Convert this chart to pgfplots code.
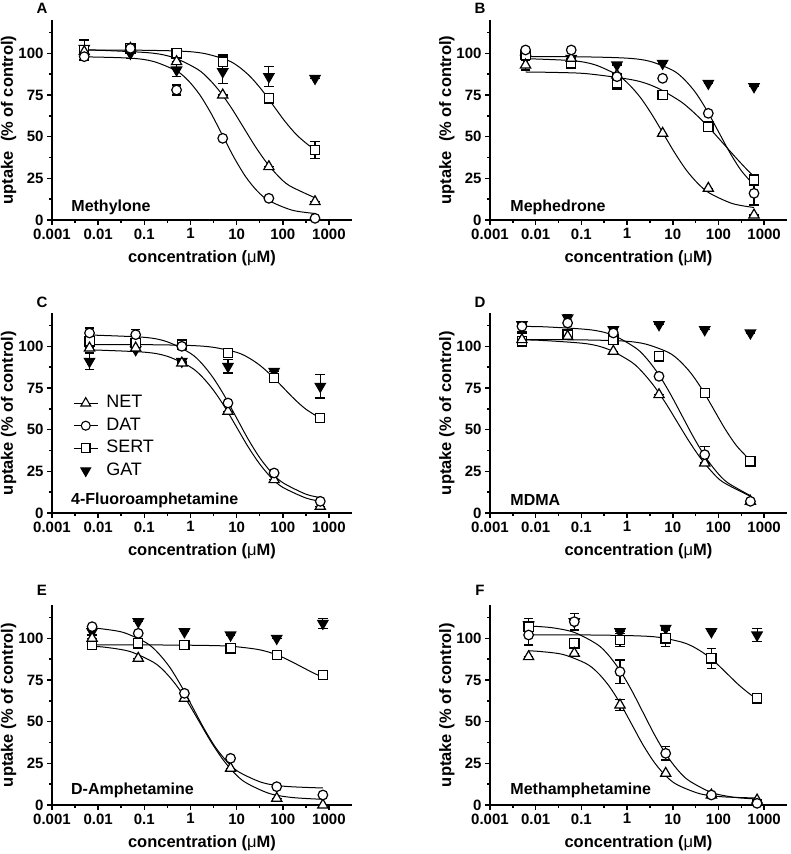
\documentclass[border=0pt]{standalone}
\usepackage{pgfplots}
\pgfplotsset{compat=1.18}
\usepackage{pgfplotstable}
\usepackage{fontspec}
\setmainfont{Liberation Sans}
\newcommand{\legf}{\fontsize{18}{19}\selectfont}

% columns: x, NET, err, DAT, err, SERT, err, GAT, err
\pgfplotstableread{
x N Ne D De S Se G Ge
0.005 101 0 98 2 102 6 103 5
0.05 103 0 103 0 103 0 100 3
0.5 95 0 78 3 100 0 90 4
5 75 0 49 0 95 4 89 7
50 32 0 13 0 73 3 86 6
500 11 0 1 0 42 5 85 0
}\tA
\pgfplotstableread{
x N Ne D De S Se G Ge
0.006 93 3 102 0 99 0 97 0
0.06 97 0 102 0 94 0 97 0
0.6 87 0 86 2 82 3.5 93 0
6 52 0 85 0 75 0 94 0
60 19 0 64 0 56 0 82 0
600 3 0 16 7 24 3 80 0
}\tB
\pgfplotstableread{
x N Ne D De S Se G Ge
0.0065 99 0 108 3 103 0 91 5
0.065 99 0 107 3 102 0 98 0
0.65 90 0 100 0 101 3 91 0
6.5 61 0 66 0 96 0 88 4
65 20 0 24 0 81 0 85 0
650 4 0 7 0 57 0 76 7
}\tC
\pgfplotstableread{
x N Ne D De S Se G Ge
0.005 104 4 112 3 103 0 113 0
0.05 106 0 114 0 107 0 117 2
0.5 97 0 108 0 104 0 110 0
5 71 0 82 0 94 0 113 0
50 30 0 35 5 72 0 110 0
500 7 0 7 0 31 0 108 0
}\tD
\pgfplotstableread{
x N Ne D De S Se G Ge
0.0074 100 0 107 0 96 0 104 2
0.074 88 0 103 0 97 0 110 0
0.74 64 0 67 0 96 0 104 0
7.4 22 0 28 0 94 0 102 0
74 4 0 11 0 90 0 100 0
740 0 0 6 0 78 0 109 3
}\tE
\pgfplotstableread{
x N Ne D De S Se G Ge
0.007 89 0 102 6 107 0 108 4
0.07 91 0 110 5 97 0 110 0
0.7 60 3.5 80 7 99 4 104 0
7 19 0 31 4 100 5 106 0
70 6 0 6 0 88 6 104 0
700 3 0 1 0 64 2 102 4
}\tF

\pgfplotsset{
  every axis/.append style={
    scale only axis, height=200pt,
    xmode=log,
    xmin=0.001, xmax=3162.28, ymin=0, ymax=120,
    clip=false,
    axis x line*=bottom, axis y line*=left,
    axis line style={line width=1.5pt},
    tick align=outside,
    major tick length=5pt, minor tick length=3pt,
    tick style={line width=1.5pt, black},
    xtick={0.001,0.01,0.1,1,10,100,1000},
    xticklabels={0.001,0.01,0.1,1,10,100,1000},
    minor xtick={0.003162,0.03162,0.3162,3.162,31.62,316.2},
    ytick={0,25,50,75,100},
    minor ytick={12.5,37.5,62.5,87.5,112.5},
    tick label style={font=\fontsize{15}{17}\selectfont\bfseries},
    label style={font=\fontsize{16.5}{19}\selectfont\bfseries},
    xlabel={concentration ({\mdseries μ}M)},
    xlabel style={at={(axis description cs:0.5,-0.19)}, anchor=center},
    ylabel style={at={(axis description cs:-0.145,0.5)}, anchor=center},
  },
  mycurve/.style={black, line width=1pt, smooth, no markers},
  myerrs/.style={error bars/.cd, y dir=both, y explicit,
    error bar style={line width=1.1pt, black},
    error mark options={rotate=90, mark size=4.8pt, line width=1.1pt, black}},
  mynet/.style={black, line width=1.2pt, only marks, mark=triangle*, mark size=5.9pt, mark options={fill=white, solid}},
  mydat/.style={black, line width=1.2pt, only marks, mark=*, mark size=4.8pt, mark options={fill=white, solid}},
  mysert/.style={black, line width=1.2pt, only marks, mark=square*, mark size=4.6pt, mark options={fill=white, solid}},
  mygat/.style={black, line width=1.2pt, only marks, mark=triangle*, mark size=5.9pt, mark options={fill=black, rotate=180, solid}},
}
\tikzset{mypname/.style={anchor=west, font=\fontsize{16}{18}\selectfont\bfseries},
  myletter/.style={font=\fontsize{15}{17}\selectfont\bfseries}}

\begin{document}
\begin{tikzpicture}
\useasboundingbox (0pt,0pt) rectangle (790pt,854pt);

% ---------------- A: Methylone
\begin{axis}[width=300pt, at={(52pt,634pt)}, anchor=south west,
  /pgf/number format/assume math mode=true,
  ylabel={uptake\ \ (\% of control)}]
\addplot[mycurve] coordinates {(0.005,101.9) (0.01413,101.7) (0.1413,100.2) (0.4467,97.3) (1.413,90.5) (2.512,84.6) (4.467,76.6) (7.943,66.7) (14.13,55.5) (25.12,44.3) (44.67,34.4) (79.43,26.4) (141.3,20.5) (500,13.3)};
\addplot[mycurve] coordinates {(0.005,97.9) (0.05012,97.1) (0.1585,95.1) (0.5012,89.4) (0.8913,83.7) (1.585,75.2) (2.818,63.8) (5.012,50.5) (8.913,37.2) (15.85,25.8) (28.18,17.3) (50.12,11.6) (158.5,5.9) (500,3.9)};
\addplot[mycurve] coordinates {(0.005,102.0) (0.0631,101.9) (0.631,101.3) (1.995,99.9) (6.31,95.9) (11.22,91.9) (19.95,85.9) (35.48,77.9) (63.1,68.5) (112.2,59.1) (199.5,51.1) (354.8,45.1) (500,42.5)};
\addplot[mygat, myerrs] table[x=x, y=G, y error=Ge] {\tA};
\addplot[mysert, myerrs] table[x=x, y=S, y error=Se] {\tA};
\addplot[mynet, myerrs] table[x=x, y=N, y error=Ne] {\tA};
\addplot[mydat, myerrs] table[x=x, y=D, y error=De] {\tA};
\node[mypname] at (axis description cs:0.053,0.065) {Methylone};
\end{axis}

% ---------------- B: Mephedrone
\begin{axis}[width=297pt, at={(490pt,634pt)}, anchor=south west,
  /pgf/number format/assume math mode=true,
  ylabel={uptake\ \ (\% of control)}]
\addplot[mycurve] coordinates {(0.006,96.8) (0.0631,95.6) (0.1995,93.1) (0.631,86.8) (1.122,81.1) (1.995,73.2) (3.548,63.0) (6.31,51.5) (11.22,40.0) (19.95,29.8) (35.48,21.9) (63.1,16.2) (199.5,9.9) (600,7.5)};
\addplot[mycurve] coordinates {(0.006,98.0) (0.1,97.9) (1,97.1) (3.162,95.2) (10,89.8) (17.78,84.4) (31.62,76.4) (56.23,65.6) (100,53.0) (177.8,40.4) (316.2,29.6) (600,20.9)};
\addplot[mycurve] coordinates {(0.006,88.8) (0.03,88.5) (0.1413,87.7) (1.413,83.9) (4.467,79.4) (14.13,71.5) (25.12,66.0) (44.67,59.5) (79.43,52.2) (141.3,44.5) (251.2,36.8) (446.7,29.5) (600,26.1)};
\addplot[mygat, myerrs] table[x=x, y=G, y error=Ge] {\tB};
\addplot[mysert, myerrs] table[x=x, y=S, y error=Se] {\tB};
\addplot[mynet, myerrs] table[x=x, y=N, y error=Ne] {\tB};
\addplot[mydat, myerrs] table[x=x, y=D, y error=De] {\tB};
\node[mypname] at (axis description cs:0.057,0.065) {Mephedrone};
\end{axis}

% ---------------- C: 4-Fluoroamphetamine
\begin{axis}[width=300pt, at={(52pt,341pt)}, anchor=south west,
  /pgf/number format/assume math mode=true,
  ylabel={uptake (\% of control)},
  legend image code/.code={\draw[mark repeat=2,mark phase=2,#1] plot coordinates {(0pt,0pt) (12pt,0pt) (24pt,0pt)};},
  legend style={draw=none, fill=none, at={(axis description cs:0.06,0.605)}, anchor=north west,
    font=\legf, row sep=4.5pt,
    nodes={font=\legf, inner sep=1pt, text height=12.5pt, text depth=3.5pt},
    /tikz/every odd column/.append style={column sep=7pt}},
  legend cell align=left,
  legend entries={{\legf NET},{\legf DAT},{\legf SERT},{\legf GAT}}]
\addlegendimage{black, line width=1.1pt, mark=triangle*, mark size=5.6pt, mark options={fill=white, solid}}
\addlegendimage{black, line width=1.1pt, mark=*, mark size=4.5pt, mark options={fill=white, solid}}
\addlegendimage{black, line width=1.1pt, mark=square*, mark size=4.3pt, mark options={fill=white, solid}}
\addlegendimage{black, line width=1.1pt, only marks, mark=triangle*, mark size=5.6pt, mark options={fill=black, rotate=180, solid}}
\addplot[mycurve] coordinates {(0.0065,97.9) (0.1,96.5) (0.3162,94.0) (1,87.6) (1.778,81.8) (3.162,73.6) (5.623,63.3) (10,51.5) (17.78,39.7) (31.62,29.4) (56.23,21.2) (100,15.4) (316.2,9.0) (650,7.1)};
\addplot[mycurve] coordinates {(0.0065,106.8) (0.1,105.4) (0.3162,102.7) (1,95.8) (1.778,89.6) (3.162,80.8) (5.623,69.7) (10,57.0) (17.78,44.3) (31.62,33.2) (56.23,24.5) (100,18.2) (316.2,11.3) (650,9.3)};
\addplot[mycurve] coordinates {(0.0065,101.0) (0.1,101.0) (1,100.5) (3.162,99.4) (10,96.4) (17.78,93.3) (31.62,88.7) (56.23,82.6) (100,75.5) (177.8,68.4) (316.2,62.3) (650,56.8)};
\addplot[mygat, myerrs] table[x=x, y=G, y error=Ge] {\tC};
\addplot[mysert, myerrs] table[x=x, y=S, y error=Se] {\tC};
\addplot[mynet, myerrs] table[x=x, y=N, y error=Ne] {\tC};
\addplot[mydat, myerrs] table[x=x, y=D, y error=De] {\tC};
\node[mypname] at (axis description cs:0.052,0.065) {4-Fluoroamphetamine};
\end{axis}

% ---------------- D: MDMA
\begin{axis}[width=297pt, at={(490pt,341pt)}, anchor=south west,
  /pgf/number format/assume math mode=true,
  ylabel={uptake (\% of control)}]
\addplot[mycurve] coordinates {(0.005,103.8) (0.01259,103.6) (0.1259,101.6) (0.3981,98.1) (1.259,90.5) (2.239,84.1) (3.981,75.8) (7.079,65.7) (12.59,54.5) (22.39,43.3) (39.81,33.2) (70.79,24.9) (125.9,18.5) (500,10.0)};
\addplot[mycurve] coordinates {(0.005,111.9) (0.01585,111.7) (0.1585,109.9) (0.5012,106.6) (1.585,98.8) (2.818,92.0) (5.012,82.8) (8.913,71.3) (15.85,58.5) (28.18,45.7) (50.12,34.2) (89.13,25.0) (158.5,18.2) (500,10.4)};
\addplot[mycurve] coordinates {(0.005,104.0) (0.0794,103.9) (0.794,103.2) (2.512,101.4) (7.943,96.4) (14.13,91.3) (25.12,83.8) (44.67,73.8) (79.43,62.0) (141.3,50.2) (251.2,40.2) (500,31.5)};
\addplot[mygat, myerrs] table[x=x, y=G, y error=Ge] {\tD};
\addplot[mysert, myerrs] table[x=x, y=S, y error=Se] {\tD};
\addplot[mynet, myerrs] table[x=x, y=N, y error=Ne] {\tD};
\addplot[mydat, myerrs] table[x=x, y=D, y error=De] {\tD};
\node[mypname] at (axis description cs:0.057,0.065) {MDMA};
\end{axis}

% ---------------- E: D-Amphetamine
\begin{axis}[width=300pt, at={(52pt,49pt)}, anchor=south west,
  /pgf/number format/assume math mode=true,
  ylabel={uptake (\% of control)}]
\addplot[mycurve] coordinates {(0.0074,95.3) (0.01585,94.5) (0.0501,92.0) (0.1585,85.6) (0.2818,79.8) (0.5012,71.6) (0.8913,61.3) (1.585,49.5) (2.818,37.7) (5.012,27.4) (8.913,19.2) (15.85,13.4) (50.12,7.0) (158.5,4.5) (740,3.4)};
\addplot[mycurve] coordinates {(0.0074,106.2) (0.01122,105.8) (0.03548,103.5) (0.1122,97.2) (0.1995,91.2) (0.3548,82.7) (0.631,71.4) (1.122,58.5) (1.995,45.6) (3.548,34.3) (6.31,25.8) (11.22,19.8) (35.48,13.5) (112.2,11.2) (740,10.2)};
\addplot[mycurve] coordinates {(0.0074,96.0) (0.2512,96.0) (2.512,95.7) (7.943,95.2) (25.12,93.6) (44.67,92.1) (79.43,89.8) (141.3,86.6) (251.2,83.0) (446.7,79.4) (740,76.6)};
\addplot[mygat, myerrs] table[x=x, y=G, y error=Ge] {\tE};
\addplot[mysert, myerrs] table[x=x, y=S, y error=Se] {\tE};
\addplot[mynet, myerrs] table[x=x, y=N, y error=Ne] {\tE};
\addplot[mydat, myerrs] table[x=x, y=D, y error=De] {\tE};
\node[mypname] at (axis description cs:0.052,0.075) {D-Amphetamine};
\end{axis}

% ---------------- F: Methamphetamine
\begin{axis}[width=297pt, at={(490pt,49pt)}, anchor=south west,
  /pgf/number format/assume math mode=true,
  ylabel={uptake (\% of control)}]
\addplot[mycurve] coordinates {(0.007,92.5) (0.01259,92.1) (0.03981,90.3) (0.1259,84.9) (0.2239,79.6) (0.3981,71.6) (0.7079,61.0) (1.259,48.5) (2.239,36.0) (3.981,25.4) (7.079,17.4) (12.59,12.1) (39.81,6.7) (125.9,4.9) (700,4.2)};
\addplot[mycurve] coordinates {(0.007,107.4) (0.02239,106.4) (0.07079,103.5) (0.2239,96.3) (0.3981,89.7) (0.7079,80.5) (1.259,68.8) (2.239,55.5) (3.981,42.2) (7.079,30.5) (12.59,21.3) (22.39,14.7) (70.79,7.5) (223.9,4.6) (700,3.6)};
\addplot[mycurve] coordinates {(0.007,102.0) (0.1585,102.0) (1.585,101.5) (5.012,100.6) (15.85,97.7) (28.18,94.9) (50.12,90.7) (89.13,85.1) (158.5,78.5) (281.8,71.9) (501.2,66.3) (700,63.7)};
\addplot[mygat, myerrs] table[x=x, y=G, y error=Ge] {\tF};
\addplot[mysert, myerrs] table[x=x, y=S, y error=Se] {\tF};
\addplot[mynet, myerrs] table[x=x, y=N, y error=Ne] {\tF};
\addplot[mydat, myerrs] table[x=x, y=D, y error=De] {\tF};
\node[mypname] at (axis description cs:0.057,0.075) {Methamphetamine};
\end{axis}

% panel letters
\node[myletter] at (42pt,846pt) {A};
\node[myletter] at (480pt,846pt) {B};
\node[myletter] at (42pt,552pt) {C};
\node[myletter] at (480pt,552pt) {D};
\node[myletter] at (42pt,264pt) {E};
\node[myletter] at (480pt,264pt) {F};
\end{tikzpicture}
\end{document}
